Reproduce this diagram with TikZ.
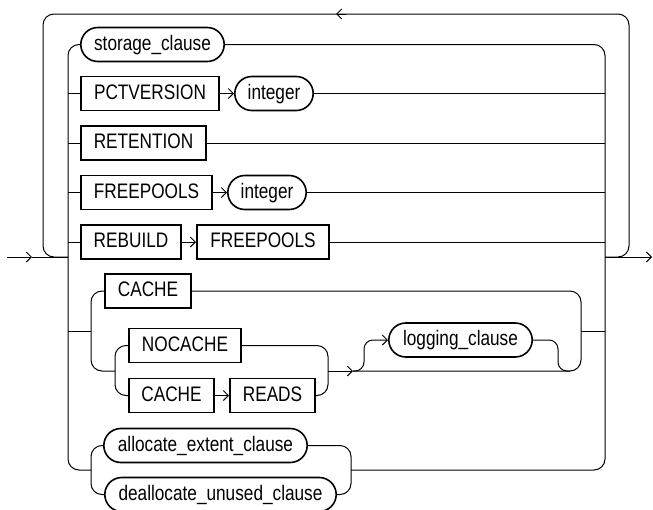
\documentclass[tikz,border=0pt]{standalone}
\usepackage{fontspec}
\setmainfont{Liberation Sans}[FakeStretch=0.82]
\usetikzlibrary{arrows.meta,shapes.misc}
\begin{document}
\begin{tikzpicture}[x=1pt,y=-1pt,
  line/.style={line width=1pt},
  base/.style={draw,line width=1.6pt,minimum height=34pt,inner sep=0pt,
    text height=16.6pt,text depth=5pt,font=\fontsize{21}{24}\selectfont},
  kw/.style={base,rectangle},
  nt/.style={base,rounded rectangle},
  arr/.style={-{Straight Barb[length=5pt,width=10pt]}},
  rc/.style={rounded corners=11pt}]
\useasboundingbox (0,0) rectangle (653,509);

% nodes
\node[nt,minimum width=143.4pt] (storage) at (152.5,44.5) {storage\_clause};
\node[kw,minimum width=138.4pt] (pct) at (150,93.5) {PCTVERSION};
\node[nt,minimum width=78.4pt] (int1) at (274,93.5) {integer};
\node[kw,minimum width=125.4pt] (ret) at (143.5,143) {RETENTION};
\node[kw,minimum width=131.4pt] (free) at (146.5,192.5) {FREEPOOLS};
\node[nt,minimum width=78.4pt] (int2) at (267,192.5) {integer};
\node[kw,minimum width=100.4pt] (rebuild) at (131,242) {REBUILD};
\node[kw,minimum width=132.4pt] (free2) at (263,242) {FREEPOOLS};
\node[kw,minimum width=86.4pt] (cache1) at (148,291) {CACHE};
\node[kw,minimum width=112.4pt] (nocache) at (185,345.5) {NOCACHE};
\node[kw,minimum width=85.4pt] (cache2) at (171.5,395.5) {CACHE};
\node[kw,minimum width=85.4pt] (reads) at (272.5,395.5) {READS};
\node[nt,minimum width=143.4pt] (logging) at (460.5,340) {logging\_clause};
\node[nt,minimum width=203.4pt] (alloc) at (205.5,445.5) {allocate\_extent\_clause};
\node[nt,minimum width=231.4pt] (dealloc) at (220.5,494.5) {deallocate\_unused\_clause};

% coordinates
\coordinate (in) at (7,257);
\coordinate (intip) at (32,257);
\coordinate (L) at (68,257);
\coordinate (R) at (605,257);
\coordinate (out) at (652,257);

% entry / exit
\draw[line,arr] (in) -- (intip);
\draw[line] (intip) -- (L);
\draw[line,arr] (R) -- (out);

% repeat loop
\draw[line,rc] (L) -- (43,257) -- (43,14) -- (629,14) -- (629,257) -- (R);
\draw[line,arr] (346,14) -- (336,14);

% main trunks
\draw[line,rc] (storage.west) -| (68,470) -- (91,470);
\draw[line,rc] (storage.east) -| (605,470) -- (351,470);

% simple rows
\draw[line] (L |- pct.west) -- (pct.west);
\draw[line,arr] (pct.east) -- (int1.west);
\draw[line] (int1.east) -- (R |- int1.east);
\draw[line] (L |- ret.west) -- (ret.west);
\draw[line] (ret.east) -- (R |- ret.east);
\draw[line] (L |- free.west) -- (free.west);
\draw[line,arr] (free.east) -- (int2.west);
\draw[line] (int2.east) -- (R |- int2.east);
\draw[line] (L |- rebuild.west) -- (rebuild.west);
\draw[line,arr] (rebuild.east) -- (free2.west);
\draw[line] (free2.east) -- (R |- free2.east);

% cache group
\draw[line] (68,331.5) -- (91,331.5);
\draw[line,rc] (cache1.west) -| (91,371) -- (115,371);
\draw[line,rc] (nocache.west) -| (115,395.5) -- (cache2.west);
\draw[line,arr] (cache2.east) -- (reads.west);
\draw[line,rc] (nocache.east) -| (328,395.5) -- (reads.east);
\draw[line,arr] (328,371) -- (353,371);
\draw[line,rc] (cache1.east) -| (581,371) -- (353,371);
\draw[line] (581,331.5) -- (605,331.5);
\draw[line,rounded corners=9pt,arr] (353,371) -- (364,371) -- (364,340) -- (logging.west);
\draw[line,rounded corners=9pt] (logging.east) -- (558,340) -- (558,371) -- (570,371);

% allocate group
\draw[line,rc] (alloc.west) -| (91,470) |- (dealloc.west);
\draw[line,rc] (alloc.east) -| (351,470) |- (dealloc.east);
\end{tikzpicture}
\end{document}
